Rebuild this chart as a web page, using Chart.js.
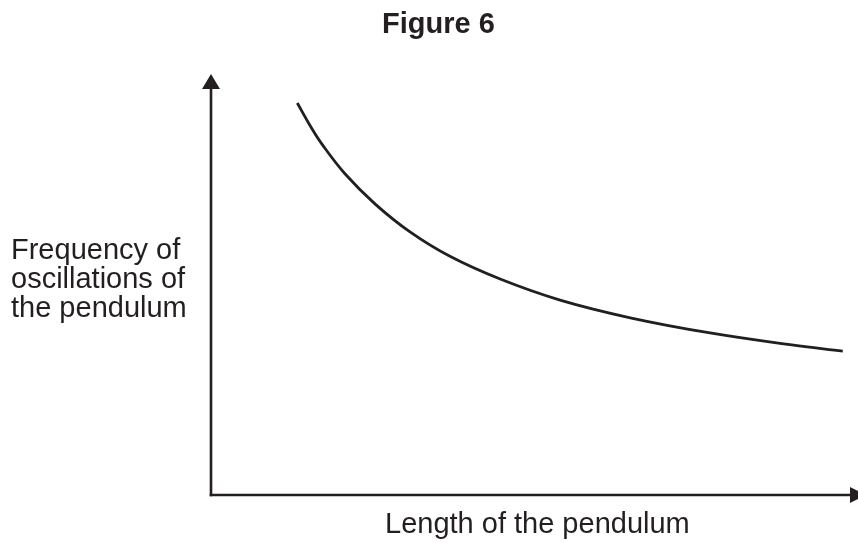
<!DOCTYPE html>
<html>
<head>
<meta charset="utf-8">
<script src="https://cdn.jsdelivr.net/npm/chart.js@4/dist/chart.umd.min.js"></script>
<style>
  html, body { margin: 0; padding: 0; background: #ffffff; }
  #c { display: block; }
</style>
</head>
<body>
<canvas id="c" width="858" height="543"></canvas>
<script>
// ---- data (arbitrary units 0..10) ----
const lengthVals = [1.34, 1.54, 1.72, 2.08, 2.55, 3.09, 3.71, 4.49, 5.42, 6.51, 7.75, 8.99, 9.81];
const freqVals   = [9.31, 8.77, 8.34, 7.63, 6.91, 6.25, 5.67, 5.13, 4.63, 4.21, 3.85, 3.57, 3.42];

const titleText = 'Figure 6';
const xLabelText = 'Length of the pendulum';
const yLabelLines = ['Frequency of', 'oscillations of', 'the pendulum'];

const INK = '#231f20';
const FONT = '"Liberation Sans", Arial, Helvetica, sans-serif';

const points = lengthVals.map((x, i) => ({ x: x, y: freqVals[i] }));

const decorPlugin = {
  id: 'decor',
  beforeDatasetsDraw(chart) {
    const ctx = chart.ctx;
    const xs = chart.scales.x, ys = chart.scales.y;
    const x0 = xs.getPixelForValue(0);
    const y0 = ys.getPixelForValue(0);
    const yTop = ys.getPixelForValue(10);
    const xEnd = chart.width;
    ctx.save();
    ctx.strokeStyle = INK;
    ctx.fillStyle = INK;
    ctx.lineWidth = 2.6;
    ctx.lineCap = 'butt';
    // y axis
    ctx.beginPath();
    ctx.moveTo(x0, y0 + 1.3);
    ctx.lineTo(x0, yTop + 12);
    ctx.stroke();
    ctx.beginPath();
    ctx.moveTo(x0, yTop);
    ctx.lineTo(x0 - 9, yTop + 15);
    ctx.lineTo(x0 + 9, yTop + 15);
    ctx.closePath();
    ctx.fill();
    // x axis
    ctx.beginPath();
    ctx.moveTo(x0 - 1.3, y0);
    ctx.lineTo(xEnd - 6, y0);
    ctx.stroke();
    ctx.beginPath();
    ctx.moveTo(xEnd + 8, y0);
    ctx.lineTo(xEnd - 8, y0 - 8);
    ctx.lineTo(xEnd - 8, y0 + 8);
    ctx.closePath();
    ctx.fill();
    ctx.restore();
  },
  afterDraw(chart) {
    const ctx = chart.ctx;
    ctx.save();
    ctx.fillStyle = INK;
    ctx.textBaseline = 'alphabetic';
    // title
    ctx.font = 'bold 29px ' + FONT;
    ctx.textAlign = 'center';
    ctx.fillText(titleText, 438.5, 33);
    // x label
    ctx.font = '29px ' + FONT;
    ctx.textAlign = 'left';
    ctx.fillText(xLabelText, 385, 533);
    // y label
    yLabelLines.forEach((line, i) => {
      ctx.fillText(line, 11, 259 + i * 29);
    });
    ctx.restore();
  }
};

new Chart(document.getElementById('c'), {
  type: 'scatter',
  data: {
    datasets: [{
      data: points,
      showLine: true,
      borderColor: INK,
      borderWidth: 2.8,
      pointRadius: 0,
      tension: 0.4,
      fill: false
    }]
  },
  options: {
    responsive: false,
    animation: false,
    events: [],
    layout: { padding: { left: 211, right: 3, top: 74, bottom: 48 } },
    plugins: {
      legend: { display: false },
      title: { display: false },
      tooltip: { enabled: false }
    },
    scales: {
      x: { type: 'linear', min: 0, max: 10, display: false },
      y: { type: 'linear', min: 0, max: 10, display: false }
    }
  },
  plugins: [decorPlugin]
});
</script>
</body>
</html>
